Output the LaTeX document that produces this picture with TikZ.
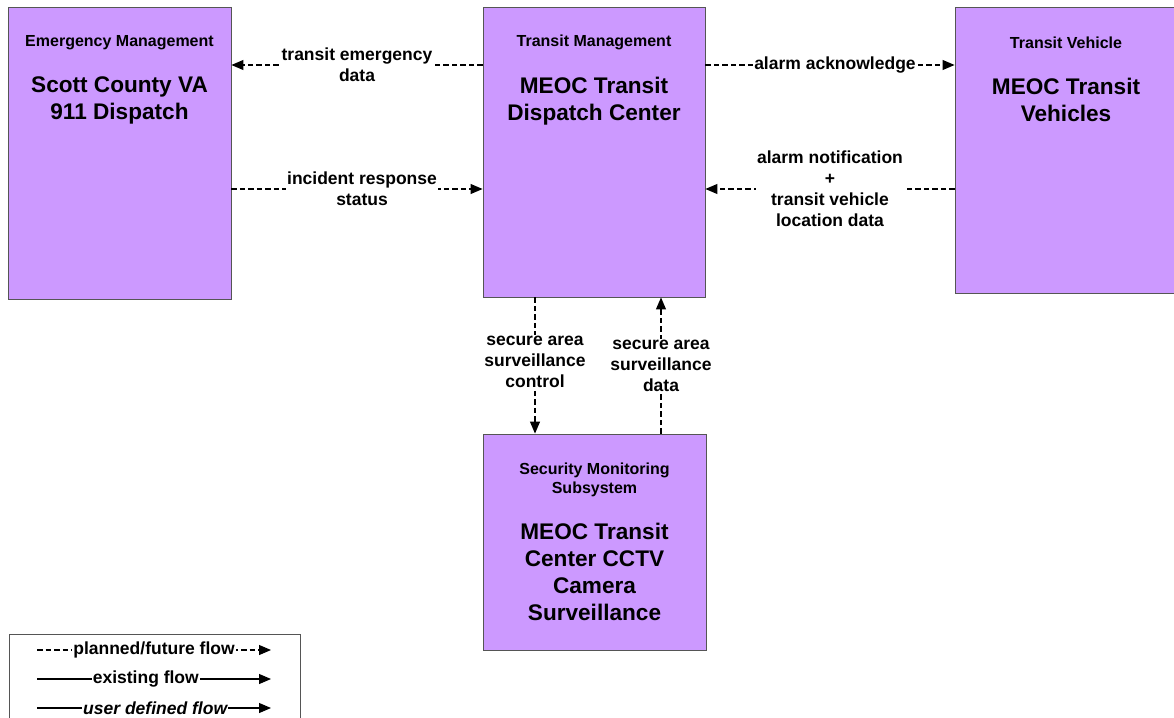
\documentclass[tikz,border=0pt]{standalone}
\usepackage{fontspec}
\setmainfont{Liberation Sans}
\usetikzlibrary{arrows.meta}
\definecolor{boxfill}{HTML}{CC99FF}
\definecolor{boxline}{HTML}{555555}
\begin{document}
\begin{tikzpicture}[x=1pt,y=-1pt,
  box/.style={draw=boxline, line width=0.9pt, fill=boxfill, inner sep=0pt, rectangle},
  hdr/.style={font=\bfseries\fontsize{16}{19}\selectfont, align=center, inner sep=0pt},
  ttl/.style={font=\bfseries\fontsize{22.6}{27}\selectfont, align=center, inner sep=0pt},
  lbl/.style={font=\bfseries\fontsize{17.5}{21}\selectfont, align=center, fill=white, inner sep=1pt},
  flow/.style={dash pattern=on 5.5pt off 3pt, line width=1.1pt, -{Triangle[length=12pt,width=10pt]}},
  solidflow/.style={line width=1.1pt, -{Triangle[length=12pt,width=10pt]}}
]
\useasboundingbox (0,0) rectangle (1174,717);

% boxes
\node[box, minimum width=223pt, minimum height=292pt] (em) at (119.5,153) {};
\node[box, minimum width=222pt, minimum height=290pt] (tm) at (594,152) {};
\node[box, minimum width=224pt, minimum height=286pt] (tv) at (1067,150) {};
\node[box, minimum width=223pt, minimum height=216pt] (sm) at (594.5,542) {};

% box texts
\node[hdr] (emh) at (119.5,43) {Emergency Management};
\node[ttl] (emt) at (119.5,100) {Scott County VA\\911 Dispatch};
\node[hdr] (tmh) at (594,42.5) {Transit Management};
\node[ttl] (tmt) at (594,101) {MEOC Transit\\Dispatch Center};
\node[hdr] (tvh) at (1066,43) {Transit Vehicle};
\node[ttl] (tvt) at (1066,100) {MEOC Transit\\Vehicles};
\node[hdr] (smh) at (594.5,479.5) {Security Monitoring\\Subsystem};
\node[ttl] (smt) at (594.5,572) {MEOC Transit\\Center CCTV\\Camera\\Surveillance};

% helper coordinates
\coordinate (ya) at (0,65);
\coordinate (yb) at (0,189);
\coordinate (xc) at (535,0);
\coordinate (xd) at (661,0);

% flows
\draw[flow] (tm.west |- ya) -- node[lbl] (f1) {transit emergency\\data} (em.east |- ya);
\draw[flow] (em.east |- yb) -- node[lbl, pos=0.52] (f2) {incident response\\status} (tm.west |- yb);
\draw[flow] (tm.east |- ya) -- node[lbl, pos=0.52] (f3) {alarm acknowledge} (tv.west |- ya);
\draw[flow] (tv.west |- yb) -- node[lbl] (f4) {alarm notification\\+\\transit vehicle\\location data} (tm.east |- yb);
\draw[flow] (tm.south -| xc) -- node[lbl, pos=0.47] (f5) {secure area\\surveillance\\control} (sm.north -| xc);
\draw[flow] (sm.north -| xd) -- node[lbl, pos=0.5] (f6) {secure area\\surveillance\\data} (tm.south -| xd);

% legend
\node[draw=boxline, line width=0.9pt, minimum width=291pt, minimum height=95pt, inner sep=0pt] (leg) at (154.5,681.5) {};
\coordinate (l1a) at (37,650);  \coordinate (l1b) at (271,650);
\coordinate (l2a) at (37,679);  \coordinate (l2b) at (271,679);
\coordinate (l3a) at (37,708);  \coordinate (l3b) at (271,708);
\draw[flow] (l1a) -- node[lbl, pos=0.50] (lg1) {planned/future flow} (l1b);
\draw[solidflow] (l2a) -- node[lbl, pos=0.465] (lg2) {existing flow} (l2b);
\draw[solidflow] (l3a) -- node[lbl, pos=0.505, font=\bfseries\itshape\fontsize{17.5}{21}\selectfont] (lg3) {user defined flow} (l3b);
\end{tikzpicture}
\end{document}
